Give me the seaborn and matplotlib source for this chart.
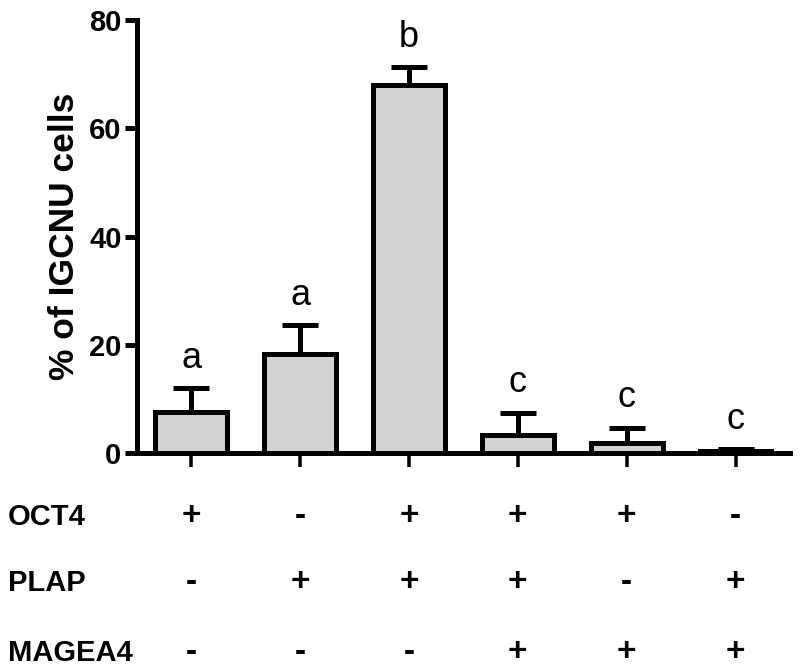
import matplotlib
matplotlib.use("Agg")
import matplotlib.pyplot as plt
import matplotlib.transforms as mtransforms
import seaborn as sns

# ------------------------------
# data
# ------------------------------
groups = ["G1", "G2", "G3", "G4", "G5", "G6"]
pct_igcnu = [7.6, 18.2, 68.1, 3.3, 1.8, 0.4]
sem_up = [4.4, 5.4, 3.2, 4.1, 2.9, 0.3]
sig_letters = ["a", "a", "b", "c", "c", "c"]

marker_names = ["OCT4", "PLAP", "MAGEA4"]
oct4 = ["+", "-", "+", "+", "+", "-"]
plap = ["-", "+", "+", "+", "-", "+"]
magea4 = ["-", "-", "-", "+", "+", "+"]

sns.set_style("ticks", {"text.color": "black", "axes.labelcolor": "black",
                        "xtick.color": "black", "ytick.color": "black",
                        "axes.edgecolor": "black"})
plt.rcParams["font.family"] = ["Liberation Sans", "DejaVu Sans"]

fig = plt.figure(figsize=(8, 6.72), dpi=100)
ax = fig.add_axes([0.171, 0.326, 0.8165, 0.644])

lw = 3.6
sns.barplot(x=groups, y=pct_igcnu, color="#d3d3d3", edgecolor="black",
            linewidth=lw, width=0.66, saturation=1, errorbar=None, ax=ax)

xpos = list(range(len(groups)))
ax.errorbar(xpos, pct_igcnu, yerr=[[0] * len(sem_up), sem_up], fmt="none",
            ecolor="black", elinewidth=lw, capsize=13, capthick=lw, zorder=1)
for line in ax.lines:
    line.set_solid_capstyle("round")

# significance letters
for x, v, e, s in zip(xpos, pct_igcnu, sem_up, sig_letters):
    ax.annotate(s, (x, v + e), xytext=(0, 9), textcoords="offset points",
                ha="center", va="bottom", fontsize=26, color="black")

ax.set_xlim(-0.5, 5.5)
ax.set_ylim(0, 80)
ax.set_yticks([0, 20, 40, 60, 80])
ax.set_xticks(xpos)
ax.set_xticklabels([])
ax.set_xlabel("")
ax.set_ylabel("% of IGCNU cells", fontsize=25.5, fontweight="bold", labelpad=6)
ax.tick_params(axis="y", labelsize=21, width=lw, length=9, pad=2, colors="black")
ax.tick_params(axis="x", width=lw * 0.7, length=10, colors="black")
for t in ax.get_yticklabels():
    t.set_fontweight("bold")
sns.despine(ax=ax)
for sp in ["left", "bottom"]:
    ax.spines[sp].set_linewidth(lw)
    ax.spines[sp].set_color("black")

# +/- marker table below the axis
trans = mtransforms.blended_transform_factory(ax.transData, fig.transFigure)
rows = [oct4, plap, magea4]
row_y = [1 - 517 / 672, 1 - 583 / 672, 1 - 653 / 672]
for name, signs, y in zip(marker_names, rows, row_y):
    fig.text(8 / 800, y, name, ha="left", va="center", fontsize=21,
             fontweight="bold", color="black")
    for x, s in zip(xpos, signs):
        ax.text(x, y, s, transform=trans, ha="center", va="center",
                fontsize=24, fontweight="bold", color="black", clip_on=False)

plt.savefig("out.png", dpi=100)
